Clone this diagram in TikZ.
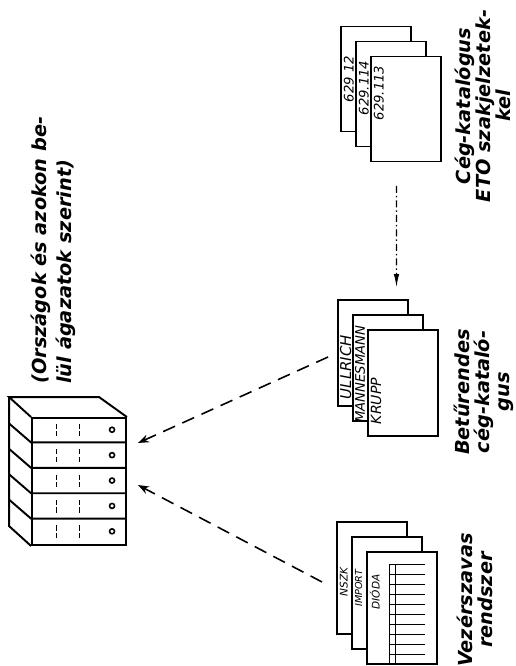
\documentclass[tikz,border=0pt]{standalone}
\usepackage{fontspec}
\setmainfont{DejaVu Sans}
\usetikzlibrary{calc, positioning}
\usetikzlibrary{arrows.meta}
\def\pw{1.4cm}
\def\dh{0.508cm}
\tikzset{
    page/.style = {
        draw, rectangle, line width=1.1pt, fill=white, minimum width=\pw, inner sep=0pt
    },
    tag/.style = {
        rotate=90, inner sep=1pt, font=\fontsize{#1}{#1}\selectfont\itshape
    },
    tag/.default = 7.5,
    caption/.style = {
        rotate=90, inner sep=0pt, align=center, font=\fontsize{11}{11.5}\selectfont\bfseries\itshape
    },
    link/.style = {
        line width=0.9pt, dash pattern=on 2.6mm off 1.6mm, -{Stealth[length=2.2mm, width=1.6mm]}
    },
    guide/.style = {
        line width=0.6pt, dash pattern=on 1.4mm off 0.6mm on 0.3mm off 0.6mm, -{Latex[length=2.6mm, width=1.1mm]}
    },
    Stack/.pic = {
        \foreach \i in {1,2,3}{
            \node [page, minimum height=#1] (-p\i) at ({15*(\i-1)}, {15*(\i-1)}) {};
        }
    },
}

\begin{document}
\begin{tikzpicture}[x=0.02cm, y=-0.02cm]
        \useasboundingbox (0,0) rectangle (516,666);
        \clip (0,0) rectangle (516,666);

        % Cabinet
        \node [draw, line width=1.1pt, minimum width=1.88cm, minimum height=2.54cm, inner sep=0pt] (cab) at (79,481.5) {};
        \draw[line width=1.1pt] (cab.north west) -- ++(-22,-20) coordinate (cabtop) -- ++(90,0) -- (cab.north east);
        \draw[line width=1.1pt] (cabtop) -- ++(0,129) -- (cab.south west);
        \foreach \k in {1,...,4}{
            \draw[line width=1.1pt] ([yshift=-\k*\dh] cab.north east) -- ([yshift=-\k*\dh] cab.north west) -- ++(-22,-19);
        }
        \foreach \k in {0,...,4}{
            \begin{scope}[shift={([yshift=-\k*\dh-0.5*\dh] cab.north west)}]
                \draw[thin, dash pattern=on 3pt off 1.2pt] (25,-6) -- (25,7);
                \draw[thin, dash pattern=on 3pt off 1.2pt] (48,-6) -- (48,7);
                \draw[line width=0.9pt] (81,0) circle (0.05cm);
            \end{scope}
        }

        % Place the card stacks
        \pic (top) at (376,79) {Stack=2.1cm};
        \pic (mid) at (373,353) {Stack=2.12cm};
        \pic (bot) at (372,578) {Stack=2.24cm};

        % Table on the front card
        \begin{scope}[shift={(bot-p3.north west)}]
            \draw[thin] (23,13) -- (23,113);
            \draw[thin] (29,13) -- (29,113);
            \foreach \j in {0,...,10}{
                \draw[thin] (23,13+10*\j) -- (59,13+10*\j);
            }
        \end{scope}

        % Card labels
        \node[tag, anchor=north] (top-t1) at ([xshift=1pt] top-p1.west) {629 12};
        \node[tag, anchor=north] (top-t2) at ([xshift=1pt, yshift=0.12cm] top-p2.west) {629.114};
        \node[tag, anchor=north] (top-t3) at ([xshift=1pt, yshift=0.32cm] top-p3.west) {629.113};
        \node[tag=8.5, anchor=north] (mid-t1) at ([xshift=0.5pt, yshift=-0.28cm] mid-p1.west) {ULLRICH};
        \node[tag=7.5, anchor=north] (mid-t2) at ([xshift=0.5pt, yshift=-0.12cm] mid-p2.west) {MANNESMANN};
        \node[tag=8, anchor=north] (mid-t3) at ([xshift=1pt, yshift=-0.36cm] mid-p3.west) {KRUPP};
        \node[tag=6, anchor=north] (bot-t1) at ([xshift=1pt, yshift=-0.08cm] bot-p1.west) {NSZK};
        \node[tag=5.5, anchor=north] (bot-t2) at ([xshift=1pt, yshift=0.1cm] bot-p2.west) {IMPORT};
        \node[tag=6, anchor=north] (bot-t3) at ([xshift=1pt, yshift=0.32cm] bot-p3.west) {DIÓDA};

        % Captions
        \node[caption, align=left, font=\fontsize{11}{14}\selectfont\bfseries\itshape, anchor=north west] (land) at (31,384) {(Országok és azokon be-\\lül ágazatok szerint)};
        \node[caption] (cat) at (483,106) {Cég-katalógus\\ETO szakjelzetek-\\kel};
        \node[caption] (abc) at (484,392) {Betűrendes\\cég-kataló-\\gus};
        \node[caption] (kw) at (475,600) {Vezérszavas\\rendszer};

        % Draw connections
        \draw[guide] ([xshift=-0.19cm, yshift=-0.47cm] top-p3.south) -- ([xshift=0.47cm, yshift=0.24cm] mid-p1.north);
        \draw[link] ([xshift=-0.18cm, yshift=-0.08cm] mid-p1.west) -- ([xshift=0.22cm, yshift=0.77cm] cab.east);
        \draw[link] ([xshift=-0.28cm, yshift=-0.08cm] bot-p1.west) -- ([xshift=0.22cm, yshift=-0.07cm] cab.east);
    \end{tikzpicture}
\end{document}
